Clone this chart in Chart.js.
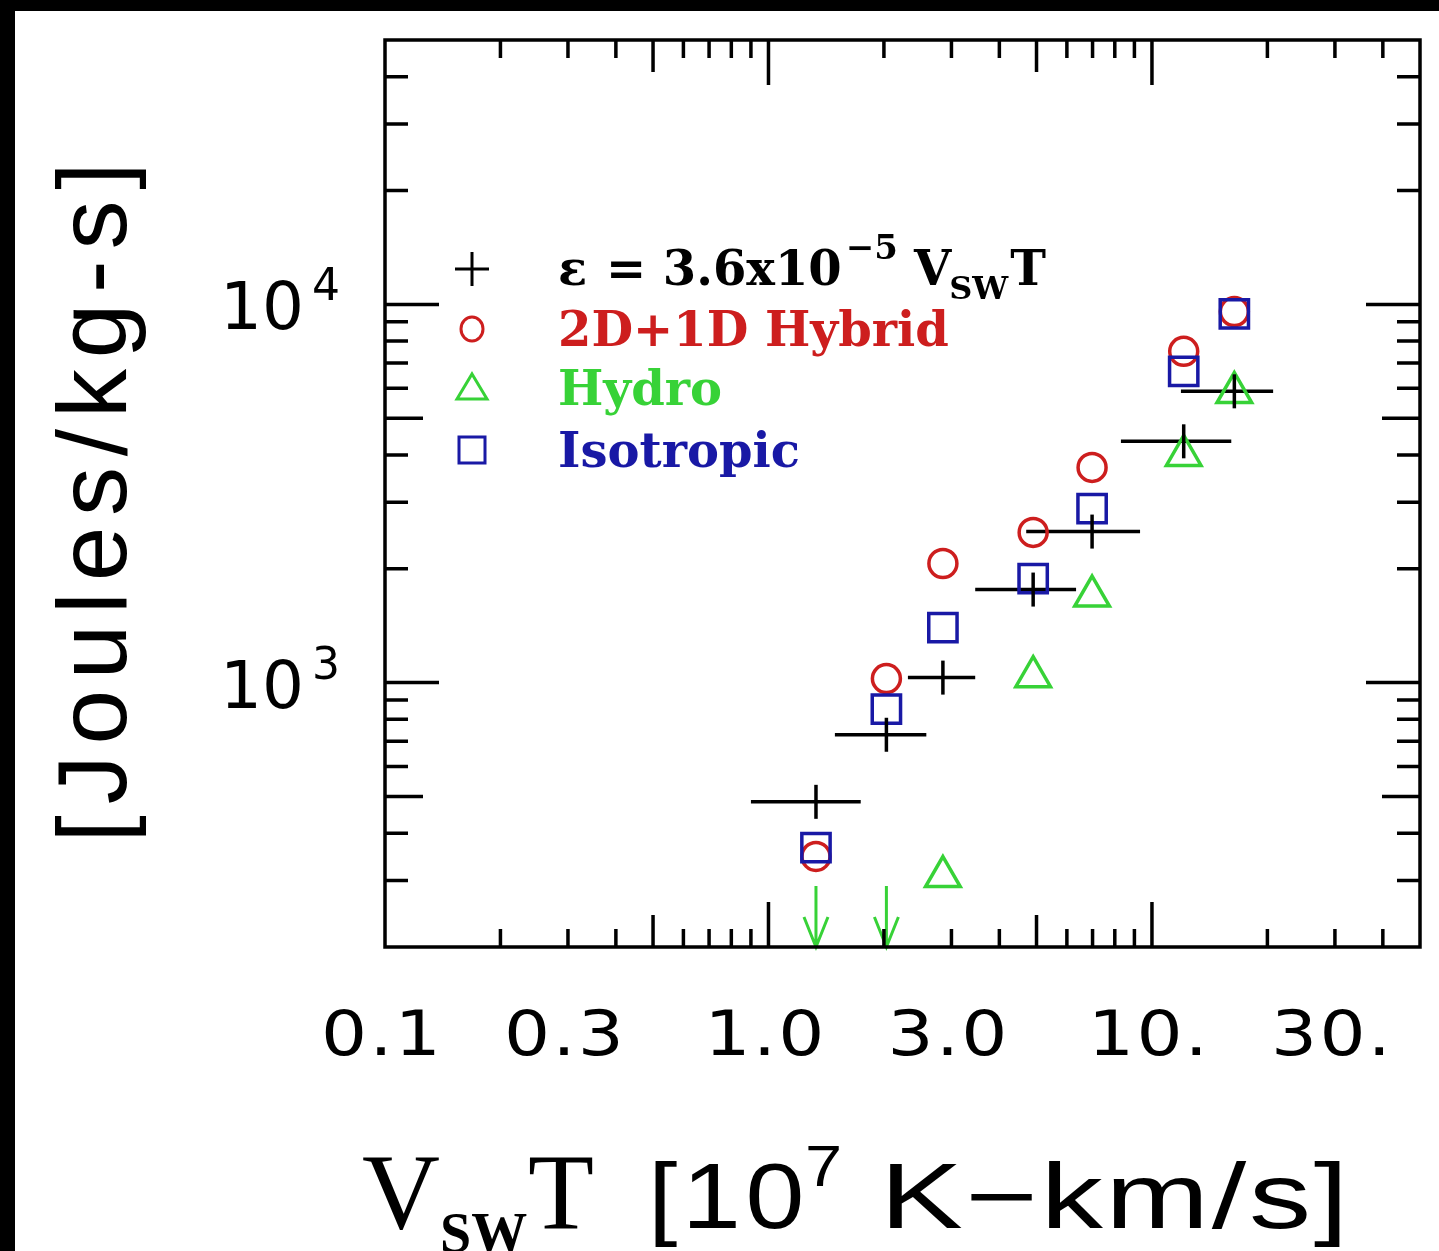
<!DOCTYPE html>
<html><head><meta charset="utf-8">
<script src="https://cdn.jsdelivr.net/npm/chart.js@4/dist/chart.umd.min.js"></script>
<style>html,body{margin:0;padding:0;background:#fff;overflow:hidden}
#wrap{position:absolute;left:0;top:0;width:1439px;height:1251px}</style>
</head><body>
<div id="wrap"><canvas id="c" width="1439" height="1251"></canvas></div>
<script>
// ---- data ----
const simX      = [1.33, 2.03, 2.85, 4.90, 6.98, 12.1, 16.4];       // V_SW T [1e7 K-km/s]
const epsY      = [484, 728, 1031, 1762, 2508, 4345, 5890];          // eps = 3.6e-5 VswT
const epsXLow   = [0.90, 1.49, 2.31, 3.46, 4.70, 8.30, 11.9];
const epsXHigh  = [1.74, 2.58, 3.46, 6.34, 9.31, 16.1, 20.7];
const hybridY   = [347, 1025, 2065, 2495, 3707, 7515, 9570];         // 2D+1D Hybrid
const isoY      = [366, 851, 1398, 1884, 2885, 6650, 9440];          // Isotropic
const hydroX    = [2.85, 4.90, 6.98, 12.1, 16.4];
const hydroY    = [307, 1037, 1694, 3987, 5848];                     // Hydro
const hydroLimX = [1.33, 2.03];                                      // Hydro upper limits
const hydroLimY = [290, 290];
const xTickValues = [0.1, 0.3, 1, 3, 10, 30];
const xTickLabels = ['0.1', '0.3', '1.0', '3.0', '10.', '30.'];
const yTickValues = [1000, 10000];
const yTickExp    = ['3', '4'];

const RED = 'rgb(205,30,30)', BLUE = 'rgb(25,25,165)', GREEN = 'rgb(55,210,55)';
const pts = (xs, ys) => xs.map((x, i) => ({x: x, y: ys[i]}));
const hasLS = (ctx) => 'letterSpacing' in ctx;

// draw text with optional letter spacing and horizontal stretch; returns right edge
function txt(ctx, t, font, x, y, spacing, color, sx) {
  sx = sx || 1;
  ctx.save();
  ctx.font = font;
  ctx.fillStyle = color || '#000';
  ctx.textAlign = 'left';
  if (hasLS(ctx)) ctx.letterSpacing = (spacing || 0) + 'px';
  const w = ctx.measureText(t).width * sx;
  ctx.translate(x, y);
  ctx.scale(sx, 1);
  ctx.fillText(t, 0, 0);
  ctx.restore();
  return x + w;
}
function txtWidth(ctx, t, font, spacing, sx) {
  ctx.save();
  ctx.font = font;
  if (hasLS(ctx)) ctx.letterSpacing = (spacing || 0) + 'px';
  const w = (ctx.measureText(t).width - (spacing || 0)) * (sx || 1);
  ctx.restore();
  return w;
}

const deco = {
  id: 'deco',
  beforeDraw(chart) {
    const ctx = chart.ctx;
    ctx.save();
    ctx.fillStyle = '#fff';
    ctx.fillRect(0, 0, chart.width, chart.height);
    ctx.fillStyle = '#000';
    ctx.fillRect(0, 0, 15, chart.height);
    ctx.fillRect(0, 0, chart.width, 11);
    ctx.restore();
  },
  beforeDatasetsDraw(chart) {
    const ctx = chart.ctx, xs = chart.scales.x, ys = chart.scales.y;
    ctx.save();
    ctx.lineWidth = 3.5; ctx.strokeStyle = '#000';
    for (let i = 0; i < simX.length; i++) {
      const y = ys.getPixelForValue(epsY[i]);
      ctx.beginPath();
      ctx.moveTo(xs.getPixelForValue(epsXLow[i]), y);
      ctx.lineTo(xs.getPixelForValue(epsXHigh[i]), y);
      ctx.stroke();
    }
    ctx.strokeStyle = GREEN; ctx.lineWidth = 3;
    const bot = chart.chartArea.bottom;
    for (let i = 0; i < hydroLimX.length; i++) {
      const x = xs.getPixelForValue(hydroLimX[i]);
      const y = ys.getPixelForValue(hydroLimY[i]);
      ctx.beginPath();
      ctx.moveTo(x, y); ctx.lineTo(x, bot);
      ctx.moveTo(x - 12, bot - 30); ctx.lineTo(x, bot); ctx.lineTo(x + 12, bot - 30);
      ctx.stroke();
    }
    ctx.restore();
  },
  afterDraw(chart) {
    const ctx = chart.ctx, xs = chart.scales.x, ys = chart.scales.y, a = chart.chartArea;
    ctx.save();
    // frame
    ctx.strokeStyle = '#000'; ctx.lineWidth = 3.5;
    ctx.strokeRect(a.left, a.top, a.right - a.left, a.bottom - a.top);
    // ticks (log minor ticks mirrored on all four sides)
    ctx.beginPath();
    for (let d = -1; d <= 1; d++) for (let m = 1; m <= 9; m++) {
      const v = m * Math.pow(10, d);
      if (v < xs.min * 1.001 || v > xs.max * 0.999) continue;
      const px = xs.getPixelForValue(v);
      const len = m === 1 ? 45 : (m === 5 ? 32 : 18);
      ctx.moveTo(px, a.bottom); ctx.lineTo(px, a.bottom - len);
      ctx.moveTo(px, a.top); ctx.lineTo(px, a.top + len);
    }
    for (let d = 2; d <= 4; d++) for (let m = 1; m <= 9; m++) {
      const v = m * Math.pow(10, d);
      if (v < ys.min * 1.001 || v > ys.max * 0.999) continue;
      const py = ys.getPixelForValue(v);
      const len = m === 1 ? 54 : (m === 5 ? 38 : 23);
      ctx.moveTo(a.left, py); ctx.lineTo(a.left + len, py);
      ctx.moveTo(a.right, py); ctx.lineTo(a.right - len, py);
    }
    ctx.stroke();
    ctx.textBaseline = 'alphabetic';
    // x tick labels
    const xf = '63px "DejaVu Sans"';
    xTickValues.forEach((v, i) => {
      const w = txtWidth(ctx, xTickLabels[i], xf, 2, 1.15);
      txt(ctx, xTickLabels[i], xf, xs.getPixelForValue(v) - w / 2 - 4, 1055, 2, '#000', 1.15);
    });
    // y tick labels
    yTickValues.forEach((v, i) => {
      const py = ys.getPixelForValue(v);
      txt(ctx, '10', '66px "DejaVu Sans"', 220, py + 25, 0);
      txt(ctx, yTickExp[i], '44px "DejaVu Sans"', 312, py - 4, 0);
    });
    // y title
    ctx.save();
    ctx.translate(99, 497);
    ctx.rotate(-Math.PI / 2);
    ctx.font = '98px "Liberation Sans"';
    ctx.textAlign = 'center'; ctx.textBaseline = 'middle';
    const yt = '[Joules/kg-s]';
    const w0 = ctx.measureText(yt).width;
    if (hasLS(ctx)) ctx.letterSpacing = Math.max(0, (680 - w0) / (yt.length - 1)) + 'px';
    ctx.fillStyle = '#000';
    ctx.fillText(yt, 0, 0);
    ctx.restore();
    // x title
    ctx.textBaseline = 'alphabetic';
    txt(ctx, 'V', '108px "Liberation Serif"', 362, 1228);
    txt(ctx, 'SW', 'bold 56px "Liberation Serif"', 440, 1252);
    txt(ctx, 'T', '108px "Liberation Serif"', 528, 1228);
    txt(ctx, '[10', '92px "Liberation Sans"', 648, 1228, 4, '#000', 1.15);
    txt(ctx, '7', '58px "Liberation Sans"', 805, 1186, 0, '#000', 1.15);
    txt(ctx, 'K−km/s]', '92px "Liberation Sans"', 880, 1228, 2, '#000', 1.35);
    // legend
    const lx = 472, tx = 558, rowsY = [269, 329, 388, 450];
    const lf = 'bold 48px "DejaVu Serif"';
    ctx.lineWidth = 3;
    ctx.strokeStyle = '#000';
    ctx.beginPath();
    ctx.moveTo(lx - 17, rowsY[0]); ctx.lineTo(lx + 17, rowsY[0]);
    ctx.moveTo(lx, rowsY[0] - 17); ctx.lineTo(lx, rowsY[0] + 17);
    ctx.stroke();
    let cx = txt(ctx, 'ε', lf, tx, rowsY[0] + 16);
    cx = txt(ctx, ' = 3.6x10', lf, cx + 2, rowsY[0] + 16);
    cx = txt(ctx, '−5', 'bold 34px "DejaVu Serif"', cx + 4, rowsY[0] - 10);
    cx = txt(ctx, 'V', lf, cx + 16, rowsY[0] + 16);
    cx = txt(ctx, 'SW', 'bold 32px "DejaVu Serif"', cx - 2, rowsY[0] + 30);
    txt(ctx, 'T', lf, cx + 2, rowsY[0] + 16);
    ctx.strokeStyle = RED;
    ctx.beginPath(); ctx.ellipse(lx, rowsY[1], 11, 12, 0, 0, Math.PI * 2); ctx.stroke();
    txt(ctx, '2D+1D Hybrid', lf, tx, rowsY[1] + 17, 0, RED);
    ctx.strokeStyle = GREEN;
    ctx.beginPath();
    ctx.moveTo(lx, rowsY[2] - 14); ctx.lineTo(lx + 15, rowsY[2] + 11); ctx.lineTo(lx - 15, rowsY[2] + 11); ctx.closePath();
    ctx.stroke();
    txt(ctx, 'Hydro', lf, tx, rowsY[2] + 17, 0, GREEN);
    ctx.strokeStyle = BLUE;
    ctx.strokeRect(lx - 13, rowsY[3] - 13, 26, 26);
    txt(ctx, 'Isotropic', lf, tx, rowsY[3] + 17, 0, BLUE);
    ctx.restore();
  }
};

new Chart(document.getElementById('c'), {
  type: 'scatter',
  data: {
    datasets: [
      {label: 'ε = 3.6x10^-5 VswT', data: pts(simX, epsY), pointStyle: 'line', rotation: 90,
       pointRadius: 17, pointBorderWidth: 3.5, borderColor: '#000', backgroundColor: '#000'},
      {label: 'Hydro', data: pts(hydroX, hydroY), pointStyle: 'triangle', pointRadius: 20,
       pointBorderWidth: 3.5, borderColor: GREEN, backgroundColor: 'rgba(0,0,0,0)'},
      {label: 'Isotropic', data: pts(simX, isoY), pointStyle: 'rect', pointRadius: 20,
       pointBorderWidth: 3.5, borderColor: BLUE, backgroundColor: 'rgba(0,0,0,0)'},
      {label: '2D+1D Hybrid', data: pts(simX, hybridY), pointStyle: 'circle', pointRadius: 14,
       pointBorderWidth: 3.5, borderColor: RED, backgroundColor: 'rgba(0,0,0,0)'},
      {label: 'Hydro upper limit', data: pts(hydroLimX, hydroLimY), pointRadius: 0,
       borderColor: GREEN, backgroundColor: GREEN}
    ]
  },
  options: {
    responsive: false, maintainAspectRatio: false, animation: false, devicePixelRatio: 1,
    events: [],
    layout: {autoPadding: false, padding: {left: 385, top: 40, right: 19, bottom: 304}},
    plugins: {legend: {display: false}, tooltip: {enabled: false}},
    scales: {
      x: {type: 'logarithmic', min: 0.1, max: 50,
          ticks: {display: false}, grid: {display: false, drawTicks: false}, border: {display: false},
          afterFit(s) { s.height = 0; }},
      y: {type: 'logarithmic', min: 200, max: 50000,
          ticks: {display: false}, grid: {display: false, drawTicks: false}, border: {display: false},
          afterFit(s) { s.width = 0; }}
    }
  },
  plugins: [deco]
});
</script>
</body></html>
